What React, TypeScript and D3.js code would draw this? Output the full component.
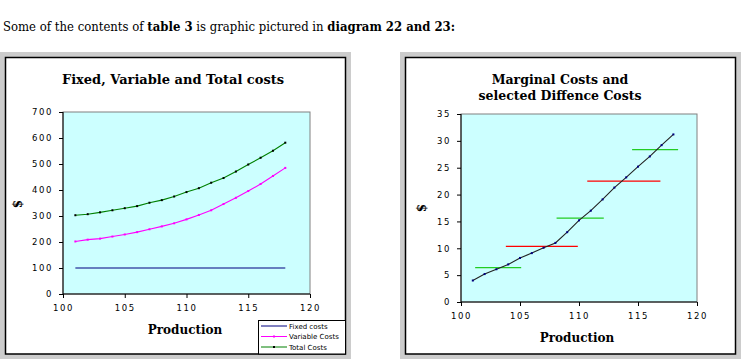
import React, { useRef, useEffect } from "react";
import * as d3 from "d3";

// production levels shared by both diagrams
const production = [101, 102, 103, 104, 105, 106, 107, 108, 109, 110, 111, 112, 113, 114, 115, 116, 117, 118];

// diagram 22
const fixedCosts = [100, 100, 100, 100, 100, 100, 100, 100, 100, 100, 100, 100, 100, 100, 100, 100, 100, 100];
const variableCosts = [202, 209, 213, 221, 229, 238, 249, 260, 272, 287, 304, 322, 346, 370, 396, 423, 454, 485];
const totalCosts = [303, 307, 314, 322, 330, 338, 351, 361, 375, 392, 407, 428, 446, 471, 498, 524, 551, 582];
const costTicks = [0, 100, 200, 300, 400, 500, 600, 700];

// diagram 23
const marginalCosts = [4.0, 5.2, 6.1, 7.0, 8.2, 9.1, 10.1, 11.0, 13.0, 15.2, 17.0, 19.1, 21.3, 23.2, 25.2, 27.1, 29.2, 31.2];
const marginalTicks = [0, 5, 10, 15, 20, 25, 30, 35];
// selected difference costs: [from, to, value]
const greenDiffs = [
    [101.2, 105.1, 6.4],
    [108.1, 112.1, 15.6],
    [114.5, 118.4, 28.35],
];
const redDiffs = [
    [103.8, 109.9, 10.35],
    [110.7, 116.9, 22.5],
];
const productionTicks = [100, 105, 110, 115, 120];

const legendItems = ["Fixed costs", "Variable Costs", "Total Costs"];

const tickFont = "DejaVu Sans";
const serif = "'DejaVu Serif', Georgia, serif";

function drawFrame(svg, x, w) {
    svg.append("rect")
        .attr("x", x)
        .attr("y", 52)
        .attr("width", w)
        .attr("height", 310)
        .attr("fill", "#cccccc");
    svg.append("rect")
        .attr("x", x + 5.5)
        .attr("y", 57.5)
        .attr("width", w - 11)
        .attr("height", 296.5)
        .attr("fill", "white")
        .attr("stroke", "black")
        .attr("stroke-width", 1.5);
}

// plot area, axes and labels; returns the scales
function drawPlot(svg, box, yDomain, yTicks) {
    const x = d3.scaleLinear().domain([100, 120]).range([box.left, box.right]);
    const y = d3.scaleLinear().domain(yDomain).range([box.bottom, box.top]);

    svg.append("rect")
        .attr("x", box.left)
        .attr("y", box.top)
        .attr("width", box.right - box.left)
        .attr("height", box.bottom - box.top)
        .attr("fill", "#ccffff")
        .attr("stroke", "#808080")
        .attr("stroke-width", 1);

    const xAxis = svg.append("g")
        .attr("transform", `translate(0,${box.bottom})`)
        .call(d3.axisBottom(x).tickValues(productionTicks).tickSize(4).tickPadding(7));
    const yAxis = svg.append("g")
        .attr("transform", `translate(${box.left},0)`)
        .call(d3.axisLeft(y).tickValues(yTicks).tickSize(4).tickPadding(6));

    [xAxis, yAxis].forEach((g) => {
        g.select(".domain").attr("stroke", "black").attr("d", null);
        g.selectAll("line").attr("stroke", "black");
        g.selectAll("text")
            .attr("fill", "black")
            .style("font-family", tickFont)
            .style("font-size", "8.5px")
            .style("letter-spacing", "1.6px");
        g.attr("font-family", null).attr("font-size", null);
    });
    xAxis.select(".domain").remove();
    yAxis.select(".domain").remove();
    svg.append("line")
        .attr("x1", box.left).attr("x2", box.right)
        .attr("y1", box.bottom).attr("y2", box.bottom)
        .attr("stroke", "black");
    svg.append("line")
        .attr("x1", box.left).attr("x2", box.left)
        .attr("y1", box.top).attr("y2", box.bottom)
        .attr("stroke", "black");

    return { x, y };
}

function drawSeries(svg, sc, values, color, markerColor) {
    const line = d3.line()
        .x((d, i) => sc.x(production[i]))
        .y((d) => sc.y(d));
    svg.append("path")
        .attr("d", line(values))
        .attr("fill", "none")
        .attr("stroke", color)
        .attr("stroke-width", 1.1);
    if (!markerColor) return;
    svg.append("g")
        .selectAll("rect")
        .data(values)
        .join("rect")
        .attr("x", (d, i) => sc.x(production[i]) - 1)
        .attr("y", (d) => sc.y(d) - 1)
        .attr("width", 2)
        .attr("height", 2)
        .attr("fill", markerColor);
}

function drawText(svg, text, x, y, size, rotate) {
    const t = svg.append("text")
        .attr("x", x)
        .attr("y", y)
        .attr("text-anchor", "middle")
        .style("font-family", serif)
        .style("font-weight", "bold")
        .style("font-size", size + "px")
        .text(text);
    if (rotate) t.attr("transform", `rotate(-90,${x},${y})`);
    return t;
}

function setUp(ref) {
    const svg = d3.select(ref);
    svg.selectAll("*").remove();

    // intro line
    const intro = svg.append("text")
        .attr("x", 3)
        .attr("y", 31)
        .style("font-family", serif)
        .style("font-size", "12px")
        .attr("textLength", 452)
        .attr("lengthAdjust", "spacingAndGlyphs");
    intro.append("tspan").text("Some of the contents of ");
    intro.append("tspan").style("font-weight", "bold").text("table 3");
    intro.append("tspan").text(" is graphic pictured in ");
    intro.append("tspan").style("font-weight", "bold").text("diagram 22 and 23:");

    // ---------- diagram 22 ----------
    drawFrame(svg, 0, 351);
    const left = drawPlot(svg, { left: 63, right: 310, top: 112, bottom: 294 }, [0, 700], costTicks);
    drawSeries(svg, left, fixedCosts, "#000080", null);
    drawSeries(svg, left, variableCosts, "#ff00ff", "#ff00ff");
    drawSeries(svg, left, totalCosts, "#008000", "black");

    drawText(svg, "Fixed, Variable and Total costs", 173, 84, 13);
    drawText(svg, "Production", 185, 334, 12);
    drawText(svg, "$", 22, 204, 12, true);

    // legend
    const lg = svg.append("g");
    lg.append("rect")
        .attr("x", 258.5).attr("y", 320.5)
        .attr("width", 87).attr("height", 33.5)
        .attr("fill", "white").attr("stroke", "black");
    const legendColors = [["#000080", null], ["#ff00ff", "#ff00ff"], ["#008000", "black"]];
    legendItems.forEach((name, i) => {
        const ly = 326 + i * 10.5;
        lg.append("line")
            .attr("x1", 261).attr("x2", 287)
            .attr("y1", ly).attr("y2", ly)
            .attr("stroke", legendColors[i][0]);
        if (legendColors[i][1]) {
            lg.append("rect")
                .attr("x", 273).attr("y", ly - 1)
                .attr("width", 2).attr("height", 2)
                .attr("fill", legendColors[i][1]);
        }
        lg.append("text")
            .attr("x", 289).attr("y", ly + 2.5)
            .style("font-family", tickFont)
            .style("font-size", "7px")
            .text(name);
    });

    // ---------- diagram 23 ----------
    drawFrame(svg, 400, 341);
    const right = drawPlot(svg, { left: 461, right: 697, top: 114, bottom: 302 }, [0, 35], marginalTicks);

    const diffs = [...greenDiffs.map((d) => [...d, "#22cc22"]), ...redDiffs.map((d) => [...d, "#ff0000"])];
    svg.append("g")
        .selectAll("line")
        .data(diffs)
        .join("line")
        .attr("x1", (d) => right.x(d[0]))
        .attr("x2", (d) => right.x(d[1]))
        .attr("y1", (d) => right.y(d[2]))
        .attr("y2", (d) => right.y(d[2]))
        .attr("stroke", (d) => d[3])
        .attr("stroke-width", 1.2);

    drawSeries(svg, right, marginalCosts, "#222222", "#000080");

    drawText(svg, "Marginal Costs and", 560, 84, 12.5);
    drawText(svg, "selected Diffence Costs", 560, 100, 12.5);
    drawText(svg, "Production", 577, 342, 12);
    drawText(svg, "$", 426, 208, 12, true);
}

export default function App() {
    const ref = useRef(null);

    useEffect(() => {
        document.body.style.margin = "0";
        if (ref.current) setUp(ref.current);
    }, []);

    return (
        <svg
            ref={ref}
            width={741}
            height={359}
            style={{ display: "block", background: "white" }}
        />
    );
}
